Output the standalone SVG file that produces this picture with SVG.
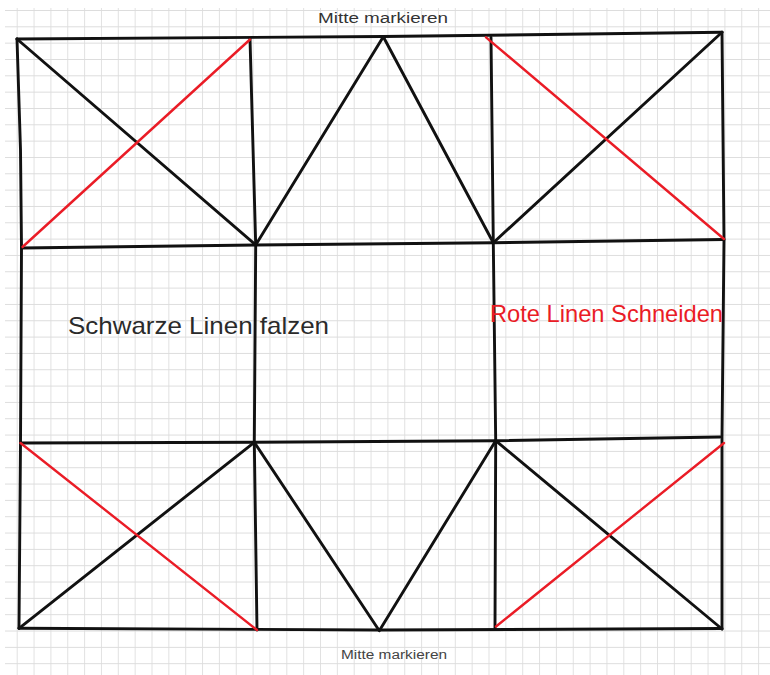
<svg xmlns="http://www.w3.org/2000/svg" width="770" height="675" viewBox="0 0 770 675">
  <defs>
    <pattern id="grid" patternUnits="userSpaceOnUse" x="16.7" y="10" width="16.85" height="16.33">
      <path d="M0 0 H16.85 M0 0 V16.33" fill="none" stroke="#dcdcdc" stroke-width="1.7"/>
    </pattern>
    <style>
      .k { fill: none; stroke: #111; stroke-width: 2.9; stroke-linecap: round; stroke-linejoin: round; }
      .r { fill: none; stroke: #ea1c26; stroke-width: 2.4; stroke-linecap: round; stroke-linejoin: round; }
      .lbl { font-family: "Liberation Sans", "DejaVu Sans", sans-serif; }
    </style>
  </defs>
  <rect x="0" y="0" width="770" height="675" fill="#ffffff"/>
  <rect id="paper" x="5" y="8" width="765" height="667" fill="url(#grid)"/>

  <g id="connectors">
    <!-- outer frame -->
    <path class="k" d="M17 39 L383 36.5 L722 32.3"/>
    <path class="k" d="M17 39 L20.5 150 L21.5 248 L20.5 443 L19 628.3"/>
    <path class="k" d="M722 32.3 L724 240 L722 437 L722 629"/>
    <path class="k" d="M19 628.3 L379.3 630 L722 628.5"/>
    <!-- inner horizontals -->
    <path class="k" d="M21.5 248 L255.7 245 L493.3 242.7 L724 239.5"/>
    <path class="k" d="M20.5 443 L254.3 442.3 L495.7 440.7 L720 437"/>
    <!-- inner verticals -->
    <path class="k" d="M250 38.5 L255.7 245 L254.3 442.3 L257 630"/>
    <path class="k" d="M491 37.5 L493.3 242.7 L495.7 440.7 L495 628"/>
    <!-- top-left square -->
    <path class="k" d="M17 39 L255.7 245"/>
    <path class="r" d="M22.5 247 L250 39.5"/>
    <!-- top middle triangle -->
    <path class="k" d="M255.7 245 L383.3 36.7 L493.3 242.7"/>
    <!-- top-right square -->
    <path class="k" d="M493.3 242.7 L722 32.3"/>
    <path class="r" d="M486 37.3 L724 239"/>
    <!-- bottom-left square -->
    <path class="k" d="M19 628.3 L254.3 442.3"/>
    <path class="r" d="M20.5 443 L257 630"/>
    <!-- bottom middle triangle -->
    <path class="k" d="M254.3 442.3 L379.3 630.7 L495.7 440.7"/>
    <!-- bottom-right square -->
    <path class="k" d="M495.7 440.7 L722 629"/>
    <path class="r" d="M496 626.5 L724 443"/>
  </g>

  <g id="label-top">
    <text class="lbl" x="318" y="23" font-size="14" fill="#333" textLength="130" lengthAdjust="spacingAndGlyphs">Mitte markieren</text>
  </g>
  <g id="label-bottom">
    <text class="lbl" x="341" y="659" font-size="12.5" fill="#444" textLength="106" lengthAdjust="spacingAndGlyphs">Mitte markieren</text>
  </g>
  <g id="label-black">
    <text class="lbl" x="68" y="334" font-size="24" fill="#2a2a2a" textLength="261" lengthAdjust="spacingAndGlyphs">Schwarze Linen falzen</text>
  </g>
  <g id="label-red">
    <text class="lbl" x="490" y="322" font-size="24" fill="#ea1c26" textLength="233" lengthAdjust="spacingAndGlyphs">Rote Linen Schneiden</text>
  </g>
</svg>
